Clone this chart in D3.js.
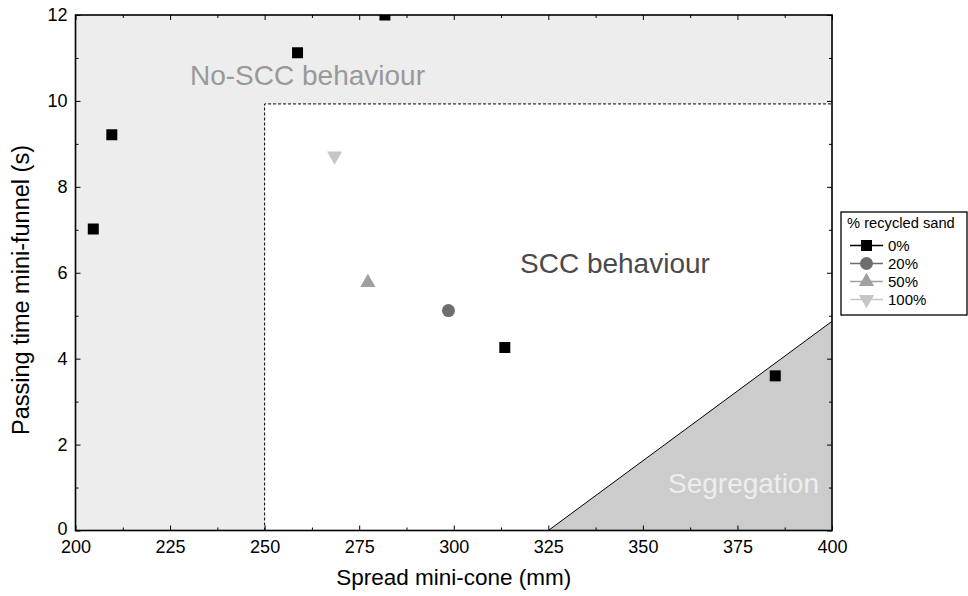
<!DOCTYPE html>
<html><head><meta charset="utf-8">
<script src="https://cdn.jsdelivr.net/npm/d3@7"></script>
<style>body{margin:0;background:#fff}svg{display:block;font-family:"Liberation Sans",Arial,Helvetica,sans-serif}</style>
</head><body><svg id="c" width="968" height="596"></svg>
<script>
// ---- data ----
const seriesNames = ["0%", "20%", "50%", "100%"];
const seriesColors = ["#000000", "#6e6e6e", "#a0a0a0", "#c6c6c6"];
const seriesSymbols = ["square", "circle", "triangle", "triangleDown"];
const spread0 = [204.7, 209.6, 258.7, 281.8, 313.5, 385.0];
const time0 = [7.02, 9.21, 11.12, 12.0, 4.26, 3.6];
const spread20 = [298.6];
const time20 = [5.12];
const spread50 = [277.3];
const time50 = [5.77];
const spread100 = [268.5];
const time100 = [8.72];
const xTicks = [200, 225, 250, 275, 300, 325, 350, 375, 400];
const yTicks = [0, 2, 4, 6, 8, 10, 12];
const sccSpreadMin = 250, sccTimeMax = 9.93;
const segregation = [[325, 0], [400, 0], [400, 4.87]];

const seriesData = [
  spread0.map((x, i) => ({x, y: time0[i]})),
  spread20.map((x, i) => ({x, y: time20[i]})),
  spread50.map((x, i) => ({x, y: time50[i]})),
  spread100.map((x, i) => ({x, y: time100[i]}))
];

// ---- layout ----
const svg = d3.select("#c");
const L = 75.5, R = 832, T = 15, B = 530.5;
const x = d3.scaleLinear().domain([200, 400]).range([L, R]);
const y = d3.scaleLinear().domain([0, 12]).range([B, T]);

svg.append("defs").append("clipPath").attr("id", "clip")
  .append("rect").attr("x", L).attr("y", T).attr("width", R - L).attr("height", B - T);

const plot = svg.append("g").attr("clip-path", "url(#clip)");
plot.append("rect").attr("x", L).attr("y", T).attr("width", R - L).attr("height", B - T).attr("fill", "#ededed");
plot.append("rect").attr("x", x(sccSpreadMin)).attr("y", y(sccTimeMax))
  .attr("width", x(400) - x(sccSpreadMin)).attr("height", y(0) - y(sccTimeMax)).attr("fill", "#ffffff");
plot.append("path")
  .attr("d", d3.line()([[x(sccSpreadMin), y(0)], [x(sccSpreadMin), y(sccTimeMax)], [x(400), y(sccTimeMax)]]))
  .attr("fill", "none").attr("stroke", "#000").attr("stroke-width", 1).attr("stroke-dasharray", "3,2");
plot.append("path").attr("d", d3.line().x(d => x(d[0])).y(d => y(d[1]))(segregation) + "Z")
  .attr("fill", "#cccccc").attr("stroke", "none");
plot.append("path").attr("d", d3.line().x(d => x(d[0])).y(d => y(d[1]))([segregation[0], segregation[2]]))
  .attr("fill", "none").attr("stroke", "#000").attr("stroke-width", 1);

// region labels
svg.append("text").attr("x", 190).attr("y", 85).attr("font-size", 28).attr("fill", "#999999").text("No-SCC behaviour");
svg.append("text").attr("x", 520).attr("y", 273).attr("font-size", 28).attr("fill", "#4a4a4a").text("SCC behaviour");
svg.append("text").attr("x", 819).attr("y", 493).attr("font-size", 28).attr("fill", "#eeeeee").attr("text-anchor", "end").text("Segregation");

// points
const symType = {square: d3.symbolSquare, circle: d3.symbolCircle, triangle: d3.symbolTriangle, triangleDown: d3.symbolTriangle};
const symSize = {square: 121, circle: 133, triangle: 100, triangleDown: 100};
function sym(name) { return d3.symbol().type(symType[name]).size(symSize[name])(); }
seriesData.forEach((pts, si) => {
  plot.selectAll(null).data(pts).enter().append("path")
    .attr("d", sym(seriesSymbols[si]))
    .attr("transform", d => `translate(${x(d.x)},${y(d.y)})` + (seriesSymbols[si] === "triangleDown" ? " rotate(180)" : ""))
    .attr("fill", seriesColors[si]);
});

// axes: inward ticks on all four sides
const minorX = d3.range(212.5, 400, 25), minorY = d3.range(1, 12, 2);
function axisG(axisFn, scale, pos, ticks, size, labels) {
  const g = svg.append("g").attr("transform", pos)
    .call(axisFn(scale).tickValues(ticks).tickSize(-size).tickSizeOuter(0).tickFormat(labels ? d3.format("d") : ""));
  g.select(".domain").remove();
  g.selectAll(".tick line").attr("stroke", "#000").attr("stroke-width", 1);
  g.selectAll("text").attr("font-size", 18).attr("fill", "#000").attr("font-family", "Liberation Sans, Arial, sans-serif");
  return g;
}
const gxb = axisG(d3.axisBottom, x, `translate(0,${B})`, xTicks, 5, true);
gxb.selectAll("text").attr("dy", "0.71em").attr("y", 10);
axisG(d3.axisBottom, x, `translate(0,${B})`, minorX, 3, false);
axisG(d3.axisTop, x, `translate(0,${T})`, xTicks, 5, false);
axisG(d3.axisTop, x, `translate(0,${T})`, minorX, 3, false);
const gyl = axisG(d3.axisLeft, y, `translate(${L},0)`, yTicks, 5, true);
gyl.selectAll("text").attr("x", -8);
gyl.selectAll(".tick").filter(d => d === 0).select("text").attr("dy", "0.2em");
axisG(d3.axisLeft, y, `translate(${L},0)`, minorY, 3, false);
axisG(d3.axisRight, y, `translate(${R},0)`, yTicks, 5, false);
axisG(d3.axisRight, y, `translate(${R},0)`, minorY, 3, false);

// frame
svg.append("rect").attr("x", L).attr("y", T).attr("width", R - L).attr("height", B - T)
  .attr("fill", "none").attr("stroke", "#000").attr("stroke-width", 1.6);

// axis titles
svg.append("text").attr("x", (L + R) / 2).attr("y", 585).attr("text-anchor", "middle").attr("font-size", 22.5).text("Spread mini-cone (mm)");
svg.append("text").attr("transform", `translate(29,290) rotate(-90)`).attr("text-anchor", "middle").attr("font-size", 23.5).text("Passing time mini-funnel (s)");

// legend
const lg = svg.append("g");
lg.append("rect").attr("x", 841).attr("y", 212).attr("width", 126).attr("height", 103)
  .attr("fill", "#fff").attr("stroke", "#000").attr("stroke-width", 1.3);
lg.append("text").attr("x", 847).attr("y", 228).attr("font-size", 14.7).text("% recycled sand");
seriesNames.forEach((name, i) => {
  const yy = 245.5 + i * 18;
  lg.append("line").attr("x1", 850).attr("x2", 883).attr("y1", yy).attr("y2", yy)
    .attr("stroke", seriesColors[i]).attr("stroke-width", 1.3);
  lg.append("path").attr("d", sym(seriesSymbols[i]))
    .attr("transform", `translate(866.5,${yy})` + (seriesSymbols[i] === "triangleDown" ? " rotate(180)" : ""))
    .attr("fill", seriesColors[i]);
  lg.append("text").attr("x", 888).attr("y", yy + 5.5).attr("font-size", 15).text(name);
});
</script></body></html>
